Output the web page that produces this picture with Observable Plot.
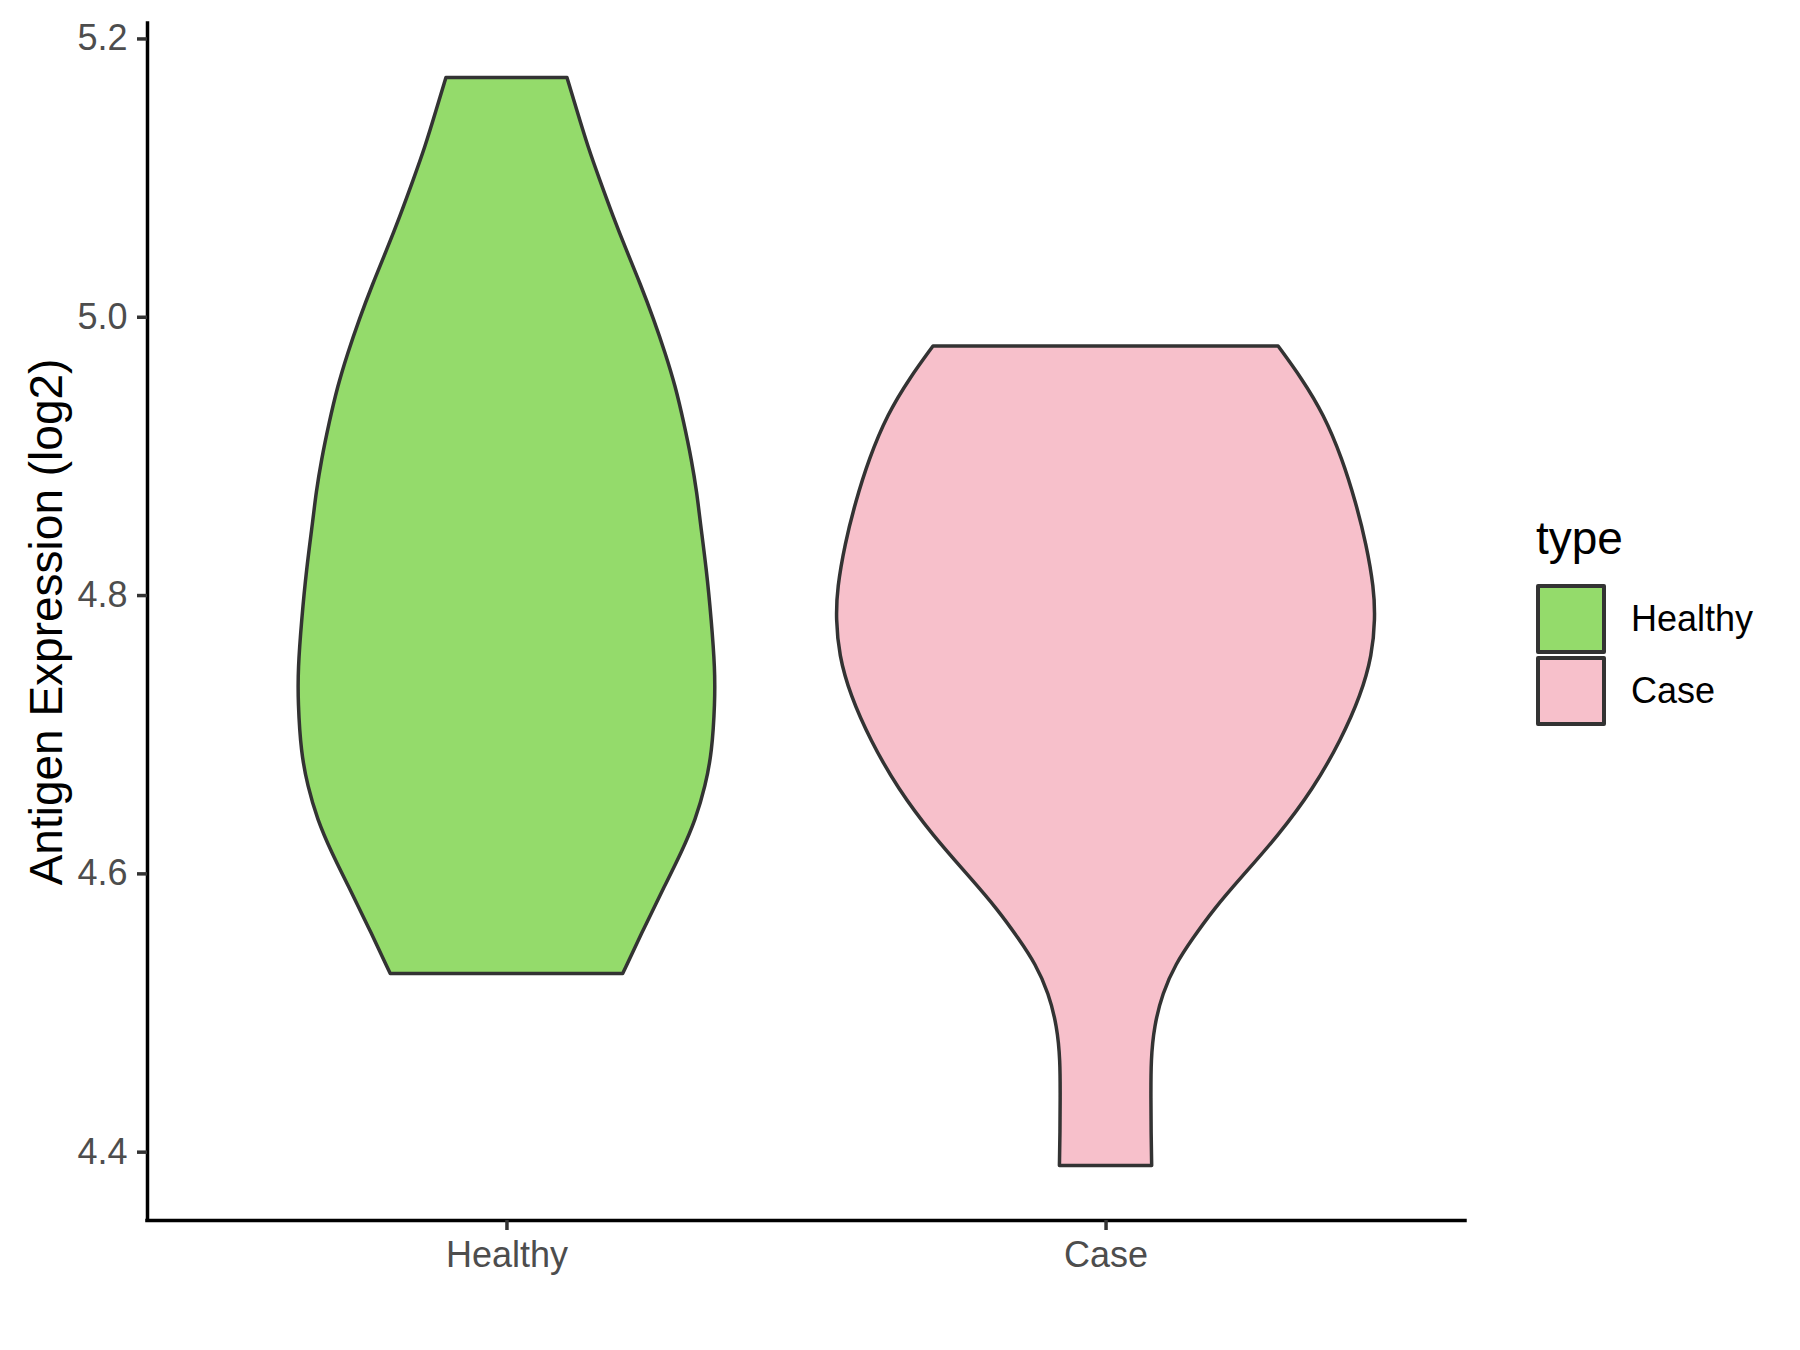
<!DOCTYPE html>
<html>
<head>
<meta charset="utf-8">
<script src="https://cdn.jsdelivr.net/npm/d3@7"></script>
<script src="https://cdn.jsdelivr.net/npm/@observablehq/plot@0.6"></script>
<style>
  html, body { margin: 0; padding: 0; background: #fff; }
  #wrap { position: relative; width: 1800px; height: 1350px; font-family: 'Liberation Sans', Arial, sans-serif; }
  #legend { position: absolute; left: 1536px; top: 515px; }
  #legend .title { font-size: 46px; line-height: 46px; color: #000; margin-bottom: 22px; }
  #legend .row { display: flex; align-items: center; height: 72px; }
  #legend .sw { width: 70px; height: 70px; box-sizing: border-box; border: 4px solid #333; border-radius: 2px; }
  #legend .lab { font-size: 36px; color: #000; margin-left: 25px; }
</style>
</head>
<body>
<div id="wrap"><div id="chart"></div><div id="legend"></div></div>
<script>
// ---- data ----
const categories = ["Healthy", "Case"];
const fillColors = ["#94DB6B", "#F7C0CB"];

// Healthy violin outline: expression value and half-width (in category units)
const healthyY = [4.528, 4.562, 4.591, 4.615, 4.639, 4.663, 4.687, 4.723, 4.747, 4.782, 4.818, 4.854, 4.873, 4.897, 4.924, 4.950, 4.974, 4.998, 5.023, 5.048, 5.072, 5.098, 5.122, 5.149, 5.172];
const healthyHalfWidth = [0.194, 0.231, 0.264, 0.292, 0.316, 0.332, 0.343, 0.348, 0.348, 0.342, 0.334, 0.323, 0.318, 0.309, 0.296, 0.282, 0.265, 0.246, 0.224, 0.200, 0.178, 0.156, 0.136, 0.117, 0.101];

// Case violin outline
const caseY = [4.390, 4.414, 4.438, 4.466, 4.490, 4.514, 4.535, 4.553, 4.574, 4.597, 4.627, 4.661, 4.696, 4.728, 4.757, 4.783, 4.805, 4.837, 4.866, 4.898, 4.930, 4.956, 4.979];
const caseHalfWidth = [0.077, 0.076, 0.0757, 0.0757, 0.081, 0.095, 0.117, 0.145, 0.180, 0.226, 0.288, 0.347, 0.393, 0.426, 0.445, 0.450, 0.448, 0.435, 0.418, 0.395, 0.364, 0.327, 0.288];

const yTicks = [4.4, 4.6, 4.8, 5.0, 5.2];
const yTitle = "Antigen Expression (log2)";
const legendTitle = "type";

// ---- build table ----
const rows = [];
healthyY.forEach((y, i) => rows.push({type: "Healthy", y, hw: healthyHalfWidth[i]}));
caseY.forEach((y, i) => rows.push({type: "Case", y, hw: caseHalfWidth[i]}));
const pos = t => categories.indexOf(t) + 1;

const allY = rows.map(d => d.y);
const yMin = d3.min(allY), yMax = d3.max(allY);
const span = yMax - yMin;
const yDomain = [yMin - 0.05 * span, yMax + 0.05 * span];
const xDomain = [0.4, categories.length + 0.6];

const chart = Plot.plot({
  width: 1800,
  height: 1350,
  marginLeft: 147,
  marginRight: 335,
  marginTop: 23,
  marginBottom: 130,
  style: {fontFamily: "'Liberation Sans', Arial, sans-serif", fontSize: "36px", background: "white"},
  x: {type: "linear", domain: xDomain},
  y: {domain: yDomain},
  color: {domain: categories, range: fillColors},
  marks: [
    Plot.areaX(rows, {
      y: "y",
      x1: d => pos(d.type) - d.hw,
      x2: d => pos(d.type) + d.hw,
      z: "type",
      fill: "type",
      stroke: "#333333",
      strokeWidth: 3.5,
      strokeLinejoin: "round",
      curve: "basis"
    }),
    Plot.ruleX([xDomain[0]], {stroke: "#000", strokeWidth: 3.5, strokeLinecap: "square"}),
    Plot.ruleY([yDomain[0]], {stroke: "#000", strokeWidth: 3.5, strokeLinecap: "square"}),
    Plot.axisY({
      ticks: yTicks, tickFormat: d3.format(".1f"), tickSize: 10, tickPadding: 10,
      stroke: "#333333", strokeWidth: 3.5, fill: "#4D4D4D", fontSize: 36, label: null
    }),
    Plot.axisX({
      ticks: categories.map(pos), tickFormat: i => categories[i - 1], tickSize: 10, tickPadding: 11,
      stroke: "#333333", strokeWidth: 3.5, fill: "#4D4D4D", fontSize: 36, label: null
    }),
    Plot.text([yTitle], {
      text: d => d, frameAnchor: "left", textAnchor: "middle", rotate: -90, dx: -86, lineAnchor: "bottom",
      fontSize: 46, fill: "#000"
    })
  ]
});
document.getElementById("chart").appendChild(chart);

// ---- legend ----
const legend = d3.select("#legend");
legend.append("div").attr("class", "title").text(legendTitle);
categories.forEach((c, i) => {
  const row = legend.append("div").attr("class", "row");
  row.append("div").attr("class", "sw").style("background", fillColors[i]);
  row.append("div").attr("class", "lab").text(c);
});
</script>
</body>
</html>
